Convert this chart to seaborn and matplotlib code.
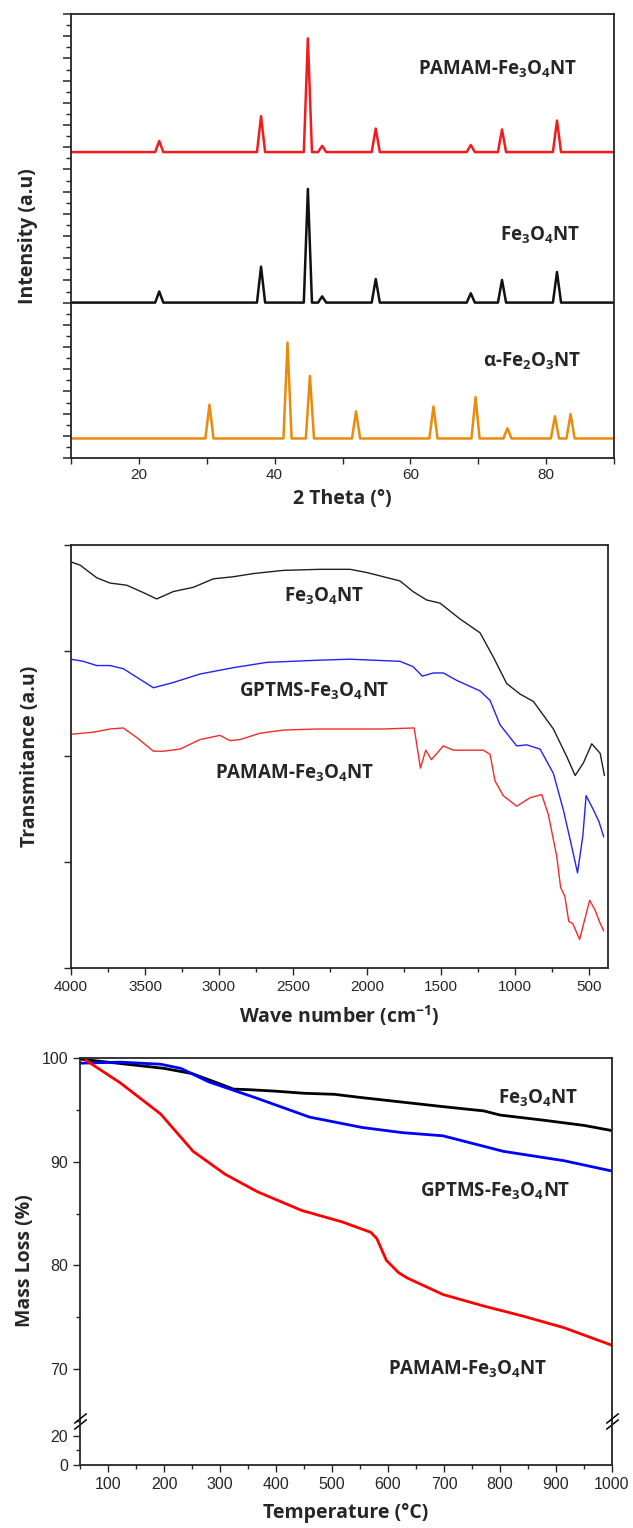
import numpy as np
import pandas as pd
import seaborn as sns
import matplotlib.pyplot as plt
from matplotlib.ticker import MultipleLocator, FixedLocator, NullFormatter
from matplotlib.transforms import offset_copy

sns.set_style("ticks")
plt.rcParams["font.family"] = ["Liberation Sans", "DejaVu Sans"]
plt.rcParams["mathtext.default"] = "regular"
plt.rcParams["axes.linewidth"] = 1.3
plt.rcParams["xtick.direction"] = "out"
plt.rcParams["ytick.direction"] = "out"

LBL = dict(family=["Open Sans", "DejaVu Sans"], weight="bold", fontsize=14)
TXT = dict(family=["Open Sans", "DejaVu Sans"], weight="bold", fontsize=13.5)

# =========================
# XRD data (peak position, peak height above baseline)
# =========================
xrd_pos_fe3o4 = [23.0, 38.0, 44.9, 47.0, 54.9, 68.9, 73.5, 81.6]
xrd_h_pamam = [2.5, 8.1, 25.6, 1.4, 5.3, 1.6, 5.1, 7.1]
xrd_h_fe3o4 = [2.5, 8.1, 25.6, 1.4, 5.3, 2.1, 5.1, 6.9]
xrd_pos_fe2o3 = [30.4, 41.9, 45.2, 52.0, 63.4, 69.6, 74.3, 81.3, 83.6]
xrd_h_fe2o3 = [7.6, 21.6, 14.1, 6.1, 7.2, 9.3, 2.3, 5.0, 5.5]
xrd_base_pamam = 68.9
xrd_base_fe3o4 = 35.0
xrd_base_fe2o3 = 4.4

# =========================
# FTIR data
# =========================
ftir_wn_fe3o4 = [4000, 3939, 3826, 3736, 3624, 3511, 3421, 3308, 3173, 3038, 2902, 2767,
                 2564, 2316, 2114, 2001, 1776, 1688, 1596, 1505, 1370, 1235, 1145, 1055,
                 964, 874, 739, 649, 592, 536, 480, 423, 394]
ftir_t_fe3o4 = [3.84, 3.81, 3.69, 3.64, 3.62, 3.55, 3.49, 3.56, 3.60, 3.68, 3.70, 3.73,
                3.76, 3.77, 3.77, 3.74, 3.66, 3.56, 3.48, 3.45, 3.30, 3.17, 2.94, 2.69,
                2.59, 2.52, 2.26, 2.00, 1.82, 1.94, 2.12, 2.03, 1.82]

ftir_wn_gptms = [4000, 3917, 3826, 3736, 3646, 3556, 3443, 3308, 3128, 2902, 2677, 2339,
                 2114, 1776, 1688, 1625, 1551, 1483, 1393, 1235, 1167, 1100, 987, 919,
                 829, 739, 671, 622, 576, 540, 518, 470, 430, 399]
ftir_t_gptms = [2.92, 2.90, 2.86, 2.86, 2.83, 2.75, 2.65, 2.70, 2.78, 2.84, 2.89, 2.91,
                2.92, 2.90, 2.85, 2.76, 2.79, 2.79, 2.72, 2.62, 2.53, 2.30, 2.10, 2.11,
                2.07, 1.84, 1.49, 1.19, 0.90, 1.25, 1.63, 1.50, 1.38, 1.24]

ftir_wn_pamam = [4000, 3849, 3736, 3646, 3556, 3443, 3376, 3263, 3128, 2993, 2925, 2857,
                 2722, 2564, 2339, 1889, 1680, 1638, 1602, 1564, 1483, 1416, 1213, 1167,
                 1134, 1078, 987, 897, 818, 773, 717, 690, 662, 635, 608, 562, 494, 458,
                 431, 399]
ftir_t_pamam = [2.21, 2.23, 2.26, 2.27, 2.18, 2.05, 2.05, 2.07, 2.16, 2.20, 2.15, 2.16,
                2.22, 2.25, 2.26, 2.26, 2.27, 1.89, 2.06, 1.97, 2.10, 2.06, 2.06, 2.02,
                1.77, 1.63, 1.53, 1.61, 1.64, 1.45, 1.06, 0.76, 0.68, 0.44, 0.42, 0.27,
                0.64, 0.55, 0.45, 0.35]

# =========================
# TGA data
# =========================
tga_t_fe3o4 = [50, 100, 150, 200, 250, 300, 324, 350, 400, 450, 504, 550, 600, 650,
               700, 771, 800, 878, 950, 1000]
tga_m_fe3o4 = [99.9, 99.6, 99.3, 99.0, 98.5, 97.5, 97.0, 96.95, 96.8, 96.6, 96.5, 96.2,
               95.9, 95.6, 95.3, 94.9, 94.5, 94.0, 93.5, 93.0]
tga_t_gptms = [50, 122, 194, 230, 280, 367, 460, 554, 626, 698, 806, 914, 1000]
tga_m_gptms = [99.5, 99.6, 99.4, 99.0, 97.7, 96.1, 94.3, 93.3, 92.8, 92.5, 91.0, 90.1, 89.1]
tga_t_pamam = [60, 122, 194, 252, 309, 367, 446, 518, 569, 580, 597, 619, 634, 698, 770,
               842, 914, 1000]
tga_m_pamam = [99.8, 97.6, 94.6, 91.0, 88.8, 87.1, 85.3, 84.2, 83.2, 82.6, 80.5, 79.3,
               78.8, 77.2, 76.1, 75.1, 74.0, 72.3]


def xrd_frame(pos, heights, base, w=0.6):
    xs, ys = [10.0], [base]
    for p, h in zip(pos, heights):
        xs += [p - w, p, p + w]
        ys += [base, base + h, base]
    xs.append(90.0)
    ys.append(base)
    return pd.DataFrame({"x": xs, "y": ys})


def rect(l, r, t, b, W=633, H=1528):
    return [l / W, 1 - b / H, (r - l) / W, (b - t) / H]


fig = plt.figure(figsize=(6.33, 15.28), dpi=100)

# =========================
# Panel 1 - XRD
# =========================
ax1 = fig.add_axes(rect(71, 614, 14, 458))
for pos, h, base, col in [
    (xrd_pos_fe3o4, xrd_h_pamam, xrd_base_pamam, "#f21c1c"),
    (xrd_pos_fe3o4, xrd_h_fe3o4, xrd_base_fe3o4, "#111111"),
    (xrd_pos_fe2o3, xrd_h_fe2o3, xrd_base_fe2o3, "#ec8a0c"),
]:
    sns.lineplot(data=xrd_frame(pos, h, base), x="x", y="y", ax=ax1, color=col,
                 lw=1.8, estimator=None, sort=False)
ax1.set_xlim(10, 90)
ax1.set_ylim(0, 100)
ax1.xaxis.set_major_locator(FixedLocator([20, 40, 60, 80]))
ax1.xaxis.set_minor_locator(MultipleLocator(10))
ax1.yaxis.set_major_locator(MultipleLocator(5))
ax1.yaxis.set_minor_locator(MultipleLocator(2.5))
ax1.yaxis.set_major_formatter(NullFormatter())
ax1.tick_params(axis="y", which="major", length=6, width=1.1)
ax1.tick_params(axis="y", which="minor", length=3.5, width=1.0)
ax1.tick_params(axis="x", which="both", length=4, width=1.0, labelsize=11)
ax1.set_xlabel("2 Theta (°)", labelpad=5, **LBL)
ax1.set_ylabel("Intensity (a.u)", labelpad=14, **LBL)
ax1.text(72.9, 87.6, "PAMAM-Fe$_3$O$_4$NT", ha="center", va="center", **TXT)
ax1.text(79.1, 50.2, "Fe$_3$O$_4$NT", ha="center", va="center", **TXT)
ax1.text(77.9, 21.8, "α-Fe$_2$O$_3$NT", ha="center", va="center", **TXT)

# =========================
# Panel 2 - FTIR
# =========================
ax2 = fig.add_axes(rect(71, 608, 545, 968))
for wn, t, col in [
    (ftir_wn_fe3o4, ftir_t_fe3o4, "#202020"),
    (ftir_wn_gptms, ftir_t_gptms, "#2222f5"),
    (ftir_wn_pamam, ftir_t_pamam, "#f52a2a"),
]:
    sns.lineplot(x=wn, y=t, ax=ax2, color=col, lw=1.0, estimator=None)
ax2.set_xlim(4000, 370)
ax2.set_ylim(0, 4)
ax2.xaxis.set_major_locator(MultipleLocator(500))
ax2.xaxis.set_minor_locator(MultipleLocator(250))
ax2.yaxis.set_major_locator(MultipleLocator(1))
ax2.yaxis.set_major_formatter(NullFormatter())
ax2.tick_params(axis="y", length=5, width=1.0)
ax2.tick_params(axis="x", which="major", length=5, width=1.0, labelsize=11)
ax2.tick_params(axis="x", which="minor", length=3, width=1.0)
ax2.set_xlabel("Wave number (cm$^{-1}$)", labelpad=7, **LBL)
ax2.set_ylabel("Transmitance (a.u)", labelpad=14, **LBL)
ax2.text(2290, 3.51, "Fe$_3$O$_4$NT", ha="center", va="center", **TXT)
ax2.text(2357, 2.62, "GPTMS-Fe$_3$O$_4$NT", ha="center", va="center", **TXT)
ax2.text(2490, 1.84, "PAMAM-Fe$_3$O$_4$NT", ha="center", va="center", **TXT)

# =========================
# Panel 3 - TGA (broken y axis)
# =========================
ax3 = fig.add_axes(rect(80, 612, 1058, 1421))
ax4 = fig.add_axes(rect(80, 612, 1421, 1465))
for t, m, col in [
    (tga_t_fe3o4, tga_m_fe3o4, "black"),
    (tga_t_gptms, tga_m_gptms, "#0000ff"),
    (tga_t_pamam, tga_m_pamam, "#ff0000"),
]:
    sns.lineplot(x=t, y=m, ax=ax3, color=col, lw=2.0, estimator=None)
for ax in (ax3, ax4):
    ax.set_xlim(50, 1000)
    ax.xaxis.set_major_locator(MultipleLocator(100))
    ax.xaxis.set_minor_locator(MultipleLocator(50))
ax3.set_ylim(65, 100)
ax4.set_ylim(0, 30)
ax3.spines["bottom"].set_visible(False)
ax4.spines["top"].set_visible(False)
ax3.tick_params(axis="x", which="both", bottom=False, labelbottom=False)
ax3.yaxis.set_major_locator(MultipleLocator(10))
ax3.yaxis.set_minor_locator(MultipleLocator(5))
ax4.yaxis.set_major_locator(FixedLocator([0, 20]))
ax4.yaxis.set_minor_locator(FixedLocator([10]))
for ax in (ax3, ax4):
    ax.tick_params(axis="both", which="major", length=5, width=1.0, labelsize=11.5)
    ax.tick_params(axis="both", which="minor", length=3, width=1.0)
ax4.set_xlabel("Temperature (°C)", labelpad=8, **LBL)
fig.text(25 / 633, 1 - 1261 / 1528, "Mass Loss (%)", rotation=90, ha="center",
         va="center", **LBL)
ax3.text(868, 96.1, "Fe$_3$O$_4$NT", ha="center", va="center", **TXT)
ax3.text(792, 87.1, "GPTMS-Fe$_3$O$_4$NT", ha="center", va="center", **TXT)
ax3.text(742, 70.0, "PAMAM-Fe$_3$O$_4$NT", ha="center", va="center", **TXT)

# break marks "//" on both spines
for dy in (-2.2, 2.2):
    tr = offset_copy(ax4.transAxes, fig=fig, y=dy, units="points")
    ax4.plot([0, 1], [1, 1], transform=tr, ls="none", marker=[(-1, -0.8), (1, 0.8)],
             markersize=9, mec="black", mew=1.1, clip_on=False)

fig.savefig("out.png", dpi=100, facecolor="white")
